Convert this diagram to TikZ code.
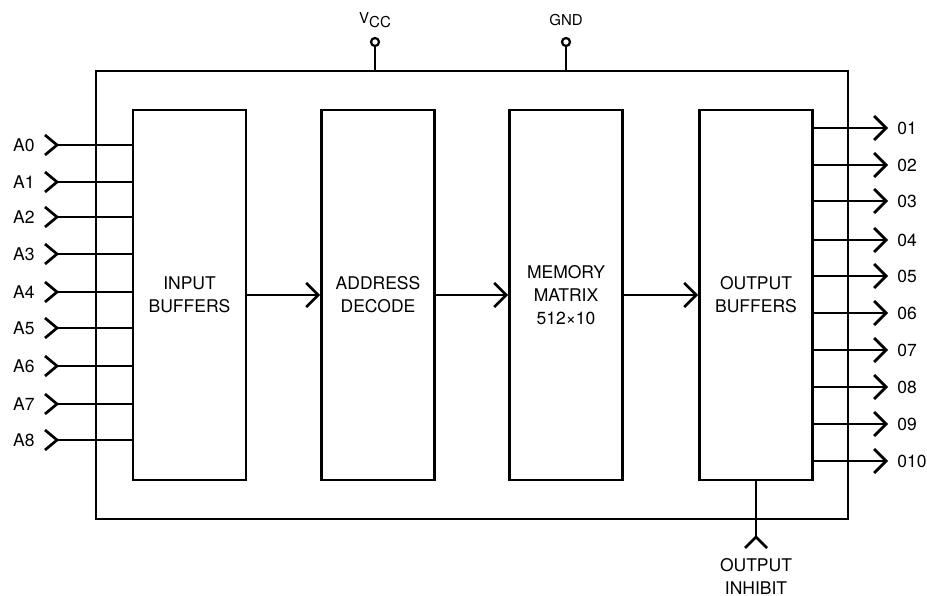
\documentclass[tikz,border=0pt]{standalone}
\usepackage{fontspec}
\setmainfont{TeX Gyre Heros}
\usetikzlibrary{arrows.meta}
\begin{document}
\begin{tikzpicture}[x=1pt,y=-1pt,line width=2.7pt,
  blk/.style={draw,minimum width=113pt,minimum height=370pt,align=center,inner sep=0pt,
    font=\fontsize{17.5}{23}\selectfont},
  lbl/.style={font=\fontsize{17.5}{23}\selectfont,inner sep=0pt,align=center},
  small/.style={font=\fontsize{15}{17}\selectfont,inner sep=0pt},
  arr/.style={-{Straight Barb[length=12pt,width=24pt,line width=2.7pt]}},
  chev/.style={line join=miter},
  pin/.style={draw,circle,minimum size=8pt,inner sep=0pt,line width=2.2pt}]
\useasboundingbox (0,0) rectangle (927,596);
% outer package
\node[draw,minimum width=752pt,minimum height=448pt,inner sep=0pt] (chip) at (472,295) {};
% blocks
\node[blk] (ib) at (189.5,295) {INPUT\\BUFFERS};
\node[blk] (ad) at (378,295) {ADDRESS\\DECODE};
\node[blk] (mm) at (566,295) {MEMORY\\MATRIX\\512×10};
\node[blk] (ob) at (756,295) {OUTPUT\\BUFFERS};
% internal arrows
\draw[arr] (ib.east) -- (ad.west);
\draw[arr] (ad.east) -- (mm.west);
\draw[arr] (mm.east) -- (ob.west);
% address inputs
\foreach \i/\y in {0/145,1/182,2/217,3/254,4/292,5/328,6/366,7/404,8/440}{
  \coordinate (a\i) at (57,\y);
  \node[lbl,anchor=east] (la\i) at (36,\y) {A\i};
  \draw (a\i) -- (a\i -| ib.west);
  \draw[chev] ([shift={(-12,-10)}]a\i) -- (a\i) -- ([shift={(-12,10)}]a\i);
}
% outputs
\foreach \i/\y in {1/128,2/165,3/201,4/240,5/276,6/313,7/350,8/387,9/424,10/461}{
  \coordinate (o\i) at (888,\y);
  \node[lbl,anchor=west] (lo\i) at (896,\y) {0\i};
  \draw[arr] (o\i -| ob.east) -- (o\i);
}
% power pins
\node[pin] (vcc) at (375,42) {};
\node[pin] (gnd) at (566,42) {};
\draw (vcc.south) -- (vcc.south |- chip.north);
\draw (gnd.south) -- (gnd.south |- chip.north);
\node[small] (lvcc) at (375,20) {\raisebox{4pt}{V}CC};
\node[small] (lgnd) at (566,20) {GND};
% output inhibit
\coordinate (oi) at (756,537);
\draw (ob.south) -- (oi);
\draw[chev] ([shift={(-11,11)}]oi) -- (oi) -- ([shift={(11,11)}]oi);
\node[lbl] (loi) at (756,576) {OUTPUT\\INHIBIT};
\end{tikzpicture}
\end{document}
